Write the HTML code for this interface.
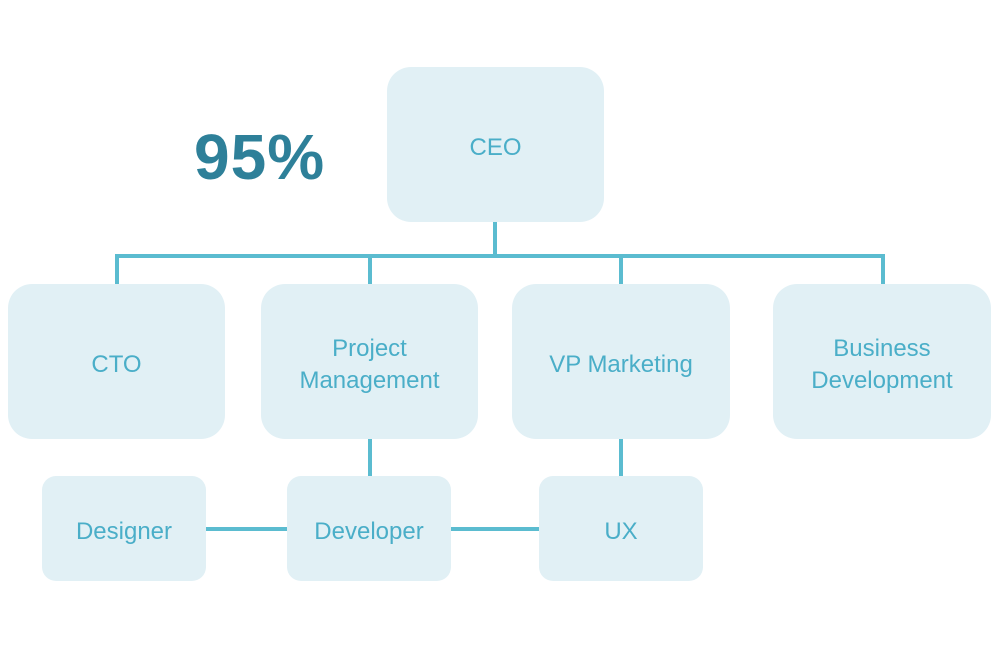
<!DOCTYPE html>
<html><head><style>
body{margin:0;width:1000px;height:650px;background:#fff;position:relative;overflow:hidden;font-family:"Liberation Sans",sans-serif}
.b{position:absolute;box-sizing:border-box;padding-top:6px;background:#e1f0f5;color:#4aaec8;display:flex;align-items:center;justify-content:center;text-align:center;font-size:24px;line-height:32px}
.big{border-radius:24px;height:155px}
.sm{border-radius:14px;height:105px;top:476px;width:164px}
.l{position:absolute;background:#5bbcd0}
</style></head><body>
<div style="position:absolute;left:194px;top:120px;font-size:64px;font-weight:bold;color:#2e8099;letter-spacing:1px">95%</div>
<div class="l" style="left:493px;top:222px;width:4px;height:36px"></div>
<div class="l" style="left:115px;top:254px;width:770px;height:4px"></div>
<div class="l" style="left:115px;top:254px;width:4px;height:32px"></div>
<div class="l" style="left:368px;top:254px;width:4px;height:32px"></div>
<div class="l" style="left:619px;top:254px;width:4px;height:32px"></div>
<div class="l" style="left:881px;top:254px;width:4px;height:32px"></div>
<div class="l" style="left:368px;top:438px;width:4px;height:40px"></div>
<div class="l" style="left:619px;top:438px;width:4px;height:40px"></div>
<div class="l" style="left:205px;top:527px;width:84px;height:4px"></div>
<div class="l" style="left:450px;top:527px;width:91px;height:4px"></div>
<div class="b big" style="left:387px;top:67px;width:217px">CEO</div>
<div class="b big" style="left:8px;top:284px;width:217px">CTO</div>
<div class="b big" style="left:261px;top:284px;width:217px">Project<br>Management</div>
<div class="b big" style="left:512px;top:284px;width:218px">VP Marketing</div>
<div class="b big" style="left:773px;top:284px;width:218px">Business<br>Development</div>
<div class="b sm" style="left:42px">Designer</div>
<div class="b sm" style="left:287px">Developer</div>
<div class="b sm" style="left:539px">UX</div>
</body></html>
